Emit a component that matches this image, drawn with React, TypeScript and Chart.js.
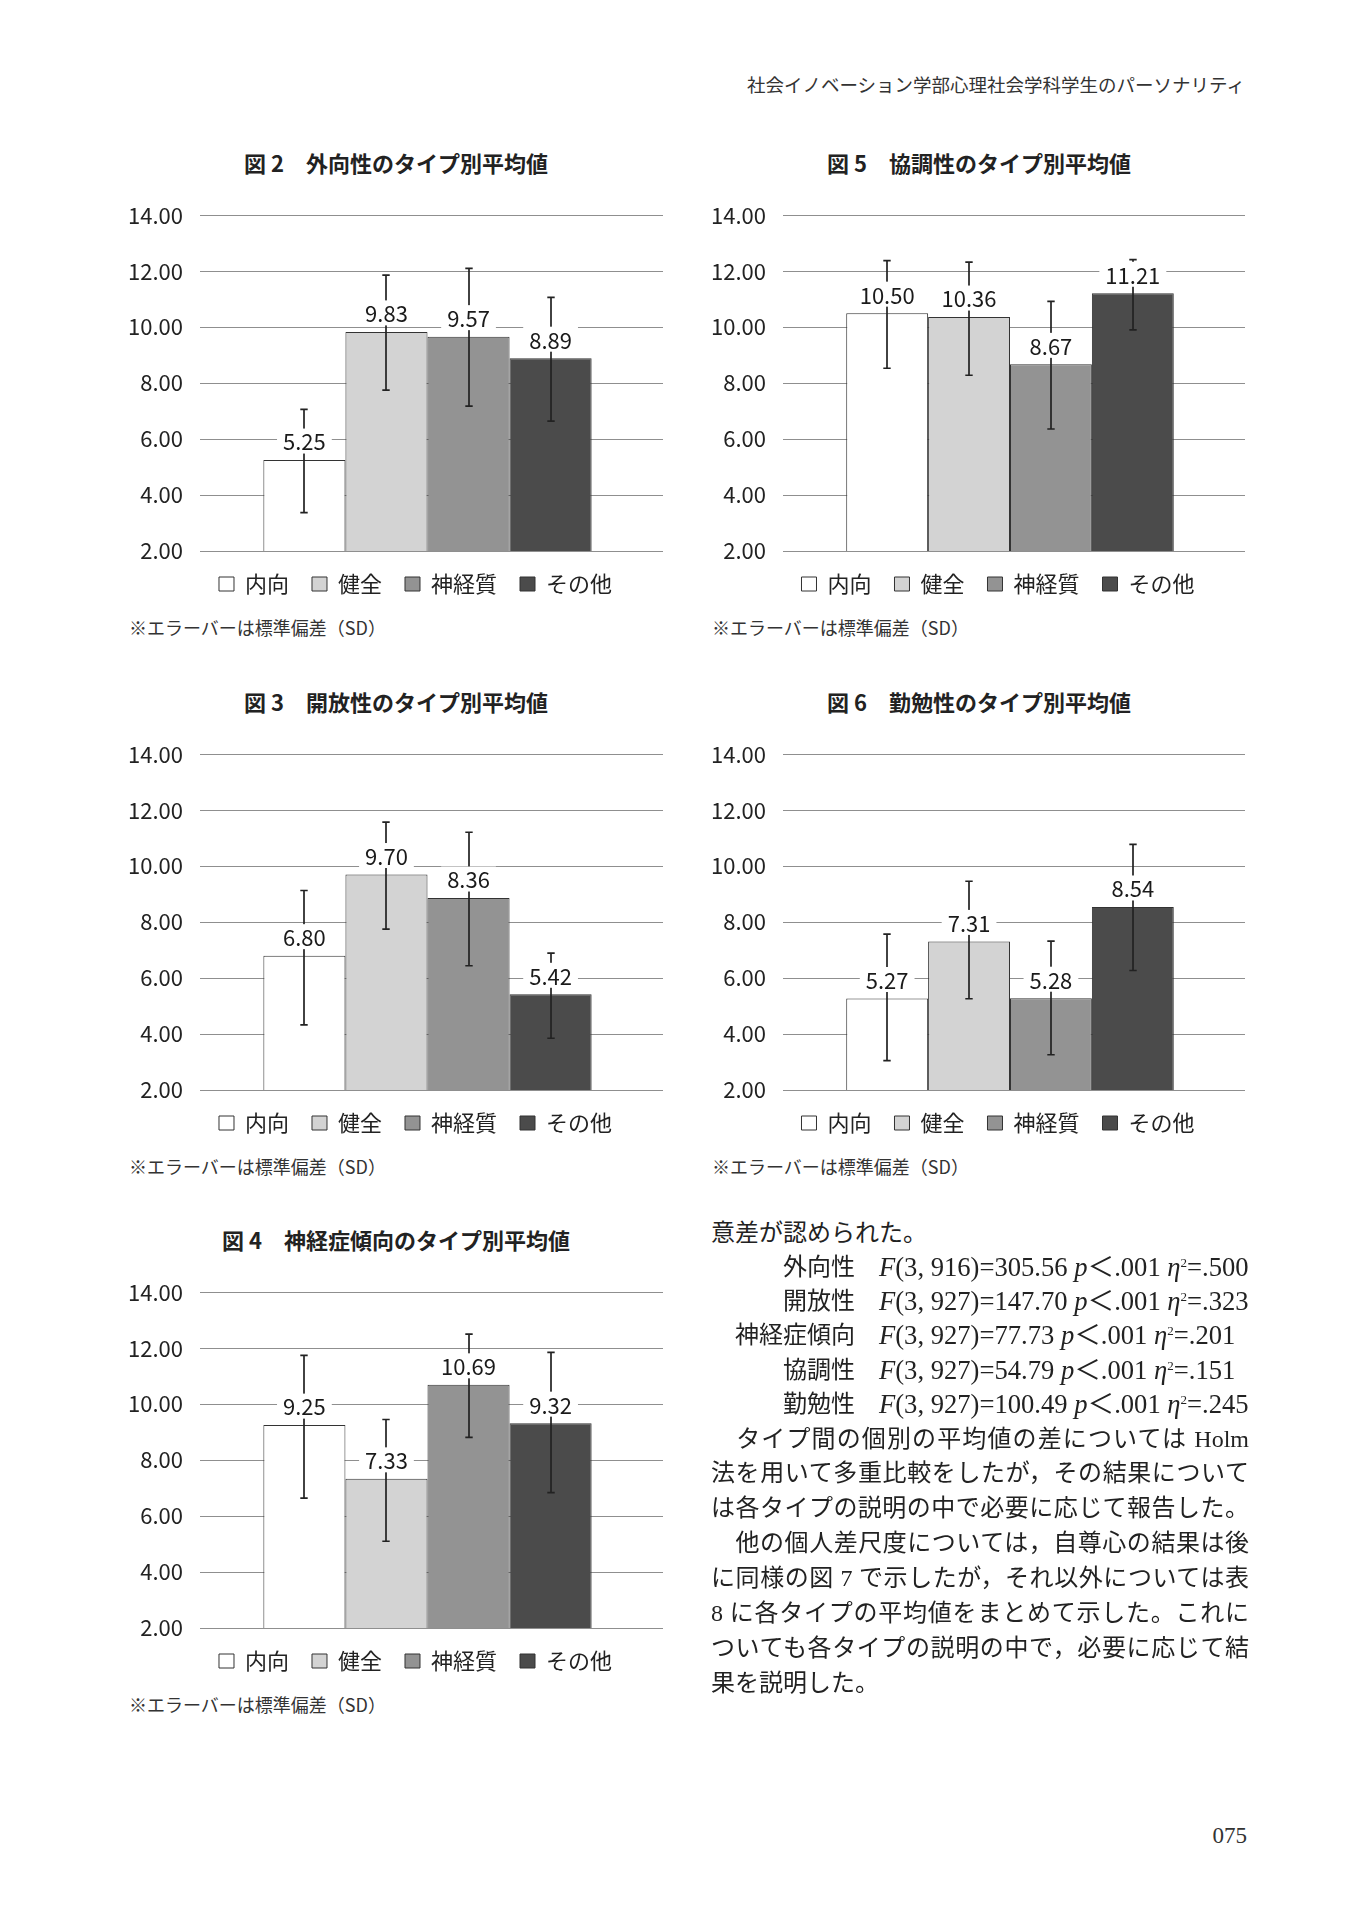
import React, { useEffect, useRef } from 'react';
import { Chart, registerables } from 'chart.js';

Chart.register(...registerables);

// ---------- data ----------
const seriesNames = ['内向', '健全', '神経質', 'その他'];
const seriesColors = ['#ffffff', '#d3d3d3', '#939393', '#4b4b4b'];
const yTickValues = [2, 4, 6, 8, 10, 12, 14];

// 図2 外向性
const extraValues = [5.25, 9.83, 9.66, 8.89];
const extraLabels = ['5.25', '9.83', '9.57', '8.89'];
const extraHigh = [7.06, 11.86, 12.1, 11.06];
const extraLow = [3.37, 7.75, 7.18, 6.64];

// 図3 開放性
const openValues = [6.8, 9.7, 8.86, 5.42];
const openLabels = ['6.80', '9.70', '8.36', '5.42'];
const openHigh = [9.13, 11.57, 11.21, 6.89];
const openLow = [4.33, 7.75, 6.44, 3.85];

// 図4 神経症傾向
const neuroValues = [9.25, 7.33, 10.69, 9.32];
const neuroLabels = ['9.25', '7.33', '10.69', '9.32'];
const neuroHigh = [11.74, 9.45, 12.5, 11.85];
const neuroLow = [6.64, 5.1, 8.81, 6.84];

// 図5 協調性
const agreeValues = [10.5, 10.36, 8.67, 11.21];
const agreeLabels = ['10.50', '10.36', '8.67', '11.21'];
const agreeHigh = [12.38, 12.32, 10.92, 12.41];
const agreeLow = [8.53, 8.28, 6.36, 9.9];

// 図6 勤勉性
const conscValues = [5.27, 7.31, 5.28, 8.54];
const conscLabels = ['5.27', '7.31', '5.28', '8.54'];
const conscHigh = [7.57, 9.46, 7.32, 10.78];
const conscLow = [3.05, 5.26, 3.26, 6.27];

const FONT = '"Noto Sans CJK JP", "Noto Sans", sans-serif';
const SERIF = '"Liberation Serif", "DejaVu Serif", "Noto Sans CJK JP", serif';

const errorBarPlugin = {
  id: 'errorBars',
  afterDatasetsDraw(chart: any, _args: any, opts: any) {
    const { ctx } = chart;
    const yScale = chart.scales.y;
    ctx.save();
    chart.data.datasets.forEach((_ds: any, i: number) => {
      const bar = chart.getDatasetMeta(i).data[0];
      const x = Math.round(bar.x);
      const yH = yScale.getPixelForValue(opts.high[i]);
      const yL = yScale.getPixelForValue(opts.low[i]);
      ctx.strokeStyle = '#222222';
      ctx.lineWidth = 1.7;
      ctx.beginPath();
      ctx.moveTo(x, yH);
      ctx.lineTo(x, yL);
      ctx.moveTo(x - 3.7, yH);
      ctx.lineTo(x + 3.7, yH);
      ctx.moveTo(x - 3.7, yL);
      ctx.lineTo(x + 3.7, yL);
      ctx.stroke();
    });
    ctx.font = '22px ' + FONT;
    ctx.textAlign = 'center';
    ctx.textBaseline = 'middle';
    chart.data.datasets.forEach((_ds: any, i: number) => {
      const bar = chart.getDatasetMeta(i).data[0];
      const text = opts.labels[i];
      const w = ctx.measureText(text).width + 12;
      const cy = bar.y - 19;
      ctx.fillStyle = '#ffffff';
      ctx.fillRect(bar.x - w / 2, cy - 12.5, w, 25);
      ctx.fillStyle = '#1a1a1a';
      ctx.fillText(text, bar.x, cy + 1);
    });
    ctx.restore();
  },
};

const shiftPlugin = {
  id: 'shift',
  afterLayout(chart: any, _args: any, opts: any) {
    const ca = chart.chartArea;
    const lg = chart.legend;
    if (lg) {
      const dx = (ca.left + ca.right) / 2 + opts.legendDx - (lg.left + lg.right) / 2;
      lg.left += dx;
      lg.right += dx;
      lg.top += opts.legendDy;
      lg.bottom += opts.legendDy;
    }
    const xs = chart.scales.x;
    if (xs) {
      xs.left += opts.barsDx;
      xs.right += opts.barsDx;
      xs.configure();
    }
  },
};

type ChartProps = {
  title: string;
  note: string;
  values: number[];
  labels: string[];
  high: number[];
  low: number[];
  areaLeft: number;
  areaRight: number;
  gridTop: number;
  titleX: number;
};

const CW = 560;
const CH = 421;

function BarChart(p: ChartProps) {
  const ref = useRef<HTMLCanvasElement>(null);
  const canvasLeft = p.areaLeft - 77;
  const canvasTop = p.gridTop - 30;
  const padRight = CW - (p.areaRight - canvasLeft);
  useEffect(() => {
    const chart = new Chart(ref.current as HTMLCanvasElement, {
      type: 'bar',
      data: {
        labels: [''],
        datasets: seriesNames.map((name, i) => ({
          label: name,
          data: [p.values[i]],
          backgroundColor: seriesColors[i],
          borderColor: '#333333',
          borderWidth: 1,
          borderSkipped: false,
          barPercentage: 1,
          categoryPercentage: 0.709,
        })),
      },
      options: {
        responsive: false,
        animation: false,
        devicePixelRatio: 1,
        layout: { padding: { left: 0, right: padRight, top: 30, bottom: 0 } },
        scales: {
          x: { display: false },
          y: {
            min: 2,
            max: 14,
            afterBuildTicks: (scale: any) => {
              scale.ticks = yTickValues.map((v) => ({ value: v }));
            },
            afterFit: (scale: any) => {
              scale.width = 77;
            },
            ticks: {
              callback: (v: any) => Number(v).toFixed(2),
              font: { size: 22, family: FONT },
              color: '#222222',
              padding: 17,
            },
            grid: { color: '#8f8f8f', lineWidth: 1, drawTicks: false },
            border: { display: false },
          },
        },
        plugins: {
          legend: {
            position: 'bottom',
            labels: {
              boxWidth: 15,
              boxHeight: 14,
              padding: 23,
              font: { size: 22, family: FONT },
              color: '#222222',
            },
          },
          tooltip: { enabled: false },
          errorBars: { high: p.high, low: p.low, labels: p.labels },
          shift: { legendDx: -16, legendDy: -1, barsDx: -4 },
        } as any,
      },
      plugins: [errorBarPlugin, shiftPlugin],
    });
    return () => chart.destroy();
  }, []);
  return (
    <>
      <div
        style={{
          position: 'absolute',
          left: p.titleX - 250,
          width: 500,
          top: p.gridTop - 53 - 15,
          height: 30,
          lineHeight: '30px',
          textAlign: 'center',
          fontSize: 22,
          fontWeight: 700,
          fontFamily: FONT,
          color: '#222',
        }}
      >
        {p.title}
      </div>
      <canvas
        ref={ref}
        width={CW}
        height={CH}
        style={{ position: 'absolute', left: canvasLeft, top: canvasTop, width: CW, height: CH }}
      />
      <div
        style={{
          position: 'absolute',
          left: p.areaLeft - 71,
          top: p.gridTop + 412 - 13,
          height: 26,
          lineHeight: '26px',
          fontSize: 18,
          fontFamily: FONT,
          color: '#333',
          whiteSpace: 'nowrap',
        }}
      >
        {p.note}
      </div>
    </>
  );
}

const NOTE = '※エラーバーは標準偏差（SD）';

const statRows = [
  { label: '外向性', df: '916', f: '305.56', eta: '.500' },
  { label: '開放性', df: '927', f: '147.70', eta: '.323' },
  { label: '神経症傾向', df: '927', f: '77.73', eta: '.201' },
  { label: '協調性', df: '927', f: '54.79', eta: '.151' },
  { label: '勤勉性', df: '927', f: '100.49', eta: '.245' },
];

const bodyLines = [
  { t: '　タイプ間の個別の平均値の差については Holm', j: true },
  { t: '法を用いて多重比較をしたが，その結果について', j: true },
  { t: 'は各タイプの説明の中で必要に応じて報告した。', j: true },
  { t: '　他の個人差尺度については，自尊心の結果は後', j: true },
  { t: 'に同様の図 7 で示したが，それ以外については表', j: true },
  { t: '8 に各タイプの平均値をまとめて示した。これに', j: true },
  { t: 'ついても各タイプの説明の中で，必要に応じて結', j: true },
  { t: '果を説明した。', j: false },
];

export default function App() {
  const textStyle: React.CSSProperties = {
    position: 'absolute',
    height: 35,
    lineHeight: '35px',
    fontSize: 24,
    fontFamily: SERIF,
    color: '#222',
    whiteSpace: 'nowrap',
  };
  return (
    <div
      style={{
        position: 'absolute',
        left: 0,
        top: 0,
        width: 1360,
        height: 1920,
        background: '#ffffff',
        overflow: 'hidden',
      }}
    >
      <div
        style={{
          position: 'absolute',
          right: 1360 - 1245,
          top: 86 - 13,
          height: 26,
          lineHeight: '26px',
          fontSize: 18.5,
          fontFamily: SERIF,
          color: '#333',
          whiteSpace: 'nowrap',
        }}
      >
        社会イノベーション学部心理社会学科学生のパーソナリティ
      </div>

      <BarChart
        title="図 2　外向性のタイプ別平均値"
        note={NOTE}
        values={extraValues}
        labels={extraLabels}
        high={extraHigh}
        low={extraLow}
        areaLeft={200}
        areaRight={663}
        gridTop={215}
        titleX={396}
      />
      <BarChart
        title="図 5　協調性のタイプ別平均値"
        note={NOTE}
        values={agreeValues}
        labels={agreeLabels}
        high={agreeHigh}
        low={agreeLow}
        areaLeft={783}
        areaRight={1245}
        gridTop={215}
        titleX={979}
      />
      <BarChart
        title="図 3　開放性のタイプ別平均値"
        note={NOTE}
        values={openValues}
        labels={openLabels}
        high={openHigh}
        low={openLow}
        areaLeft={200}
        areaRight={663}
        gridTop={754}
        titleX={396}
      />
      <BarChart
        title="図 6　勤勉性のタイプ別平均値"
        note={NOTE}
        values={conscValues}
        labels={conscLabels}
        high={conscHigh}
        low={conscLow}
        areaLeft={783}
        areaRight={1245}
        gridTop={754}
        titleX={979}
      />
      <BarChart
        title="図 4　神経症傾向のタイプ別平均値"
        note={NOTE}
        values={neuroValues}
        labels={neuroLabels}
        high={neuroHigh}
        low={neuroLow}
        areaLeft={200}
        areaRight={663}
        gridTop={1292}
        titleX={396}
      />

      <div style={{ ...textStyle, left: 711, top: 1233 - 17.5 }}>意差が認められた。</div>
      {statRows.map((r, i) => (
        <React.Fragment key={r.label}>
          <div style={{ ...textStyle, left: 655, width: 200, textAlign: 'right', top: 1267 + i * 34.4 - 17.5 }}>
            {r.label}
          </div>
          <div style={{ ...textStyle, left: 879, top: 1267 + i * 34.4 - 17.5, fontSize: 26.6 }}>
            <i>F</i>(3, {r.df})={r.f} <i>p</i>＜.001 <i>η</i>
            <sup style={{ fontSize: 13, verticalAlign: 'top', lineHeight: '26px' }}>2</sup>={r.eta}
          </div>
        </React.Fragment>
      ))}
      {bodyLines.map((l, i) => (
        <div
          key={i}
          style={{
            ...textStyle,
            left: 711,
            width: 538,
            top: 1439 + i * 34.9 - 17.5,
            textAlign: l.j ? 'justify' : 'left',
            textAlignLast: l.j ? 'justify' : 'left',
          }}
        >
          {l.t}
        </div>
      ))}

      <div
        style={{
          position: 'absolute',
          right: 1360 - 1247,
          textAlign: 'right',
          top: 1836 - 14,
          height: 28,
          lineHeight: '28px',
          fontSize: 23,
          fontFamily: SERIF,
          color: '#333',
        }}
      >
        075
      </div>
    </div>
  );
}
